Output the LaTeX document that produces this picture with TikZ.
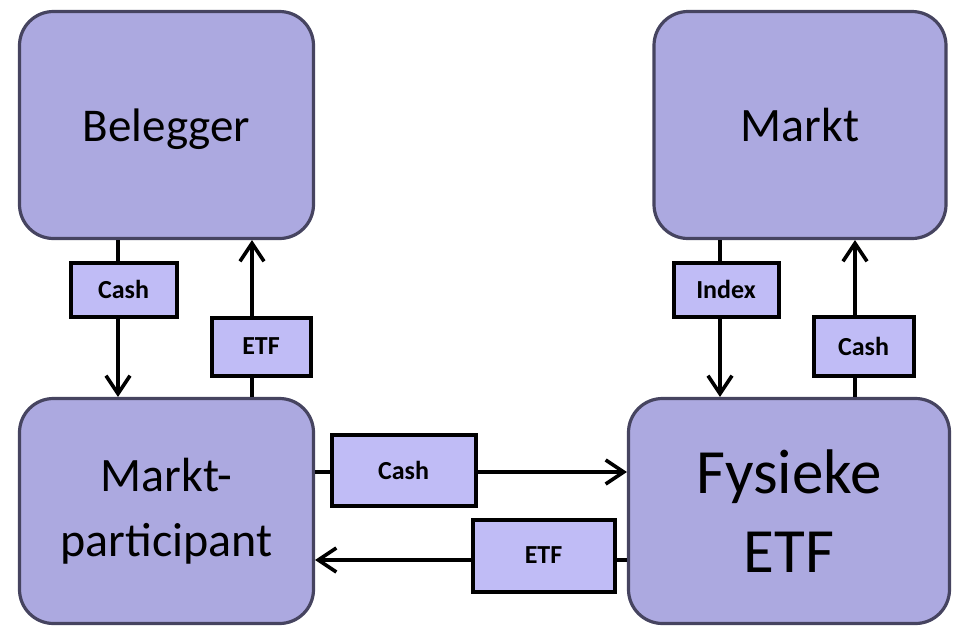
\documentclass[tikz,border=0pt]{standalone}
\usepackage{fontspec}
\setmainfont{Carlito}
\usetikzlibrary{arrows.meta}

\definecolor{boxfill}{HTML}{ACA9E0}
\definecolor{boxline}{HTML}{464460}
\definecolor{tagfill}{HTML}{C0BCF6}

\tikzset{
  party/.style={draw=boxline, fill=boxfill, line width=1.6pt, rounded corners=17pt,
    align=center, inner sep=0pt},
  tag/.style={draw=black, fill=tagfill, line width=2pt, inner sep=0pt,
    font=\fontsize{13}{15}\selectfont\bfseries},
  plain/.style={line width=1.8pt},
  link/.style={line width=1.8pt, -{Straight Barb[length=9pt,width=12pt]}}
}

\begin{document}
\begin{tikzpicture}[x=0.5pt,y=-0.5pt]
  \useasboundingbox (0,0) rectangle (960,627);

  % the four parties
  \node[party, minimum width=147pt, minimum height=113.5pt, text depth=0pt,
    font=\fontsize{23.5}{28}\selectfont] (beleg) at (166.5,125) {Belegger};
  \node[party, minimum width=146pt, minimum height=113.5pt, text depth=0pt,
    font=\fontsize{24}{28}\selectfont] (markt) at (800,125) {Markt};
  \node[party, minimum width=147pt, minimum height=112.5pt,
    font=\fontsize{24}{32.5}\selectfont] (part) at (166.5,511) {Markt-\\participant};
  \node[party, minimum width=160.5pt, minimum height=112.5pt,
    font=\fontsize{31.5}{39.5}\selectfont] (fys) at (789,511) {Fysieke\\ETF};

  % the tags on the flows
  \node[tag, minimum width=53pt, minimum height=27pt] (cashA) at (123.5,289.5) {Cash};
  \node[tag, minimum width=49.5pt, minimum height=29pt] (etfA) at (261,346.5) {ETF};
  \node[tag, minimum width=52.5pt, minimum height=27pt] (index) at (726,289.5) {Index};
  \node[tag, minimum width=50pt, minimum height=29.5pt] (cashB) at (863.5,346) {Cash};
  \node[tag, minimum width=72pt, minimum height=35.5pt] (cashM) at (403.5,470) {Cash};
  \node[tag, minimum width=71pt, minimum height=36pt] (etfM) at (543.5,555.5) {ETF};

  % where the flows run
  \coordinate (inA) at (118,0);
  \coordinate (outA) at (252,0);
  \coordinate (inB) at (720,0);
  \coordinate (outB) at (855,0);
  \coordinate (toF) at (0,472);
  \coordinate (toP) at (0,560);

  \draw[plain] (beleg.south -| inA) -- (cashA.north -| inA);
  \draw[link] (cashA.south -| inA) -- (part.north -| inA);
  \draw[plain] (part.north -| outA) -- (etfA.south -| outA);
  \draw[link] (etfA.north -| outA) -- (beleg.south -| outA);

  \draw[plain] (markt.south -| inB) -- (index.north -| inB);
  \draw[link] (index.south -| inB) -- (fys.north -| inB);
  \draw[plain] (fys.north -| outB) -- (cashB.south -| outB);
  \draw[link] (cashB.north -| outB) -- (markt.south -| outB);

  \draw[plain] (part.east |- toF) -- (cashM.west |- toF);
  \draw[link] (cashM.east |- toF) -- (fys.west |- toF);
  \draw[plain] (fys.west |- toP) -- (etfM.east |- toP);
  \draw[link] (etfM.west |- toP) -- (part.east |- toP);

\end{tikzpicture}
\end{document}
